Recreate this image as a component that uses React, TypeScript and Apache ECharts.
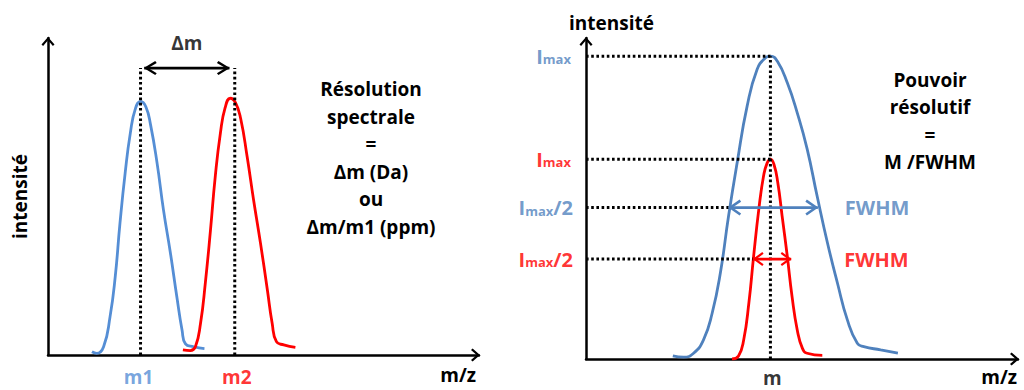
import React, { useEffect, useRef } from 'react';
import * as echarts from 'echarts';

// ---------- style constants ----------
const BLUE_L = '#558ED5';
const BLUE_R = '#4F81BD';
const RED = '#FF0000';
const BLACK = '#000000';
const FONT = '"Open Sans", "DejaVu Sans", sans-serif';
const AXIS_ARROW = 'path://M6.5,0L13,7.4L11.4,9L6.5,3.3L1.6,9L0,7.4Z';
const HEAD = 'path://M7,0L14,10.6L12.2,12L7,4.1L1.8,12L0,10.6Z';

// ---------- left panel data (m/z units 0..100, intensity 0..100) ----------
const m1 = 21.47;
const m2 = 43.33;
const deltaTop = 90.5;
const deltaArrowX = [22.33, 42.09];
const peakM1: [number, number][] = [
  [10.2, 1.0], [11.3, 0.5], [12.9, 2.6], [14.4, 12.1], [15.6, 24.7], [16.7, 41.6],
  [17.9, 57.4], [19.1, 70.0], [20.3, 77.8], [21.5, 80.0], [22.7, 78.3], [23.8, 72.6],
  [25.3, 60.6], [26.8, 45.7], [28.4, 32.2], [29.9, 18.3], [31.1, 7.9], [31.9, 3.5],
  [33.8, 2.6], [36.3, 2.0],
];
const peakM2: [number, number][] = [
  [31.3, 1.6], [33.0, 1.4], [34.2, 2.6], [35.4, 10.1], [36.5, 22.7], [37.7, 39.4],
  [38.8, 56.2], [40.0, 70.0], [41.1, 78.0], [42.3, 81.0], [43.5, 79.6], [44.7, 74.6],
  [46.2, 62.6], [47.7, 48.9], [49.3, 35.3], [50.9, 20.5], [52.0, 10.1], [53.0, 4.2],
  [54.7, 3.2], [57.4, 2.4],
];

// ---------- right panel data ----------
const mCenter = 42.69;
const wideImax = 100;
const narrowImax = 66;
const wideHalf = 50;
const narrowHalf = 33;
const wideFwhm = [33.02, 53.67];
const narrowFwhm = [38.68, 47.49];
const widePeak: [number, number][] = [
  [20.1, 1.0], [22.6, 0.6], [24.9, 1.9], [27.2, 6.3], [29.2, 15.1], [31.1, 28.4],
  [33.0, 47.2], [35.0, 64.9], [37.3, 83.5], [39.6, 95.6], [41.5, 99.4], [42.7, 100],
  [44.3, 98.3], [46.6, 91.2], [48.9, 81.3], [51.2, 69.3], [53.5, 53.8], [55.9, 38.3],
  [58.2, 25.1], [60.5, 12.9], [62.8, 5.2], [64.3, 4.1], [68.2, 3.0], [72.2, 1.9],
];
const narrowPeak: [number, number][] = [
  [33.8, 0], [35.3, 1.0], [36.5, 6.3], [37.7, 18.5], [38.8, 33.9], [40.0, 49.4],
  [41.1, 60.4], [41.9, 64.6], [42.7, 66], [43.5, 64.3], [44.4, 58.2], [45.4, 47.2],
  [46.6, 33.9], [47.7, 20.6], [48.9, 9.6], [50.1, 3.5], [51.2, 1.9], [54.7, 1.2],
];

const leftText = ['Résolution', 'spectrale', '=', 'Δm (Da)', 'ou', 'Δm/m1 (ppm)'];
const rightText = ['Pouvoir', 'résolutif', '=', 'M /FWHM'];

function dotted(idx: number, pts: [number, number][]) {
  return {
    type: 'line', xAxisIndex: idx, yAxisIndex: idx, data: pts, symbol: 'none',
    lineStyle: { color: BLACK, width: 3, type: [2.6, 2.6] }, z: 3, silent: true,
  };
}

function dblArrow(idx: number, xs: number[], y: number, color: string, spread: number, len: number, width: number) {
  return {
    type: 'line', xAxisIndex: idx, yAxisIndex: idx, symbol: HEAD, symbolSize: [spread, len],
    showSymbol: true, showAllSymbol: true,
    itemStyle: { color, borderWidth: 0 },
    lineStyle: { color, width },
    z: 4, silent: true,
    data: [
      { value: [xs[0], y], symbolRotate: 90, symbolOffset: [len / 2 - 0.5, 0] },
      { value: [xs[1], y], symbolRotate: -90, symbolOffset: [-len / 2 + 0.5, 0] },
    ],
  };
}

function curve(idx: number, pts: [number, number][], color: string) {
  return {
    type: 'line', xAxisIndex: idx, yAxisIndex: idx, data: pts, smooth: 0.5, symbol: 'none',
    lineStyle: { color, width: 2.8 }, z: 2, silent: true,
  };
}

const subRich = (color: string) => ({
  I: { fontSize: 20, fontWeight: 'bold', fontFamily: FONT, color },
  s: { fontSize: 13, fontWeight: 'bold', fontFamily: FONT, color, padding: [6, 0, 0, 0] },
  t: { fontSize: 20, fontWeight: 'bold', fontFamily: FONT, color },
});

const nameStyle = { color: BLACK, fontSize: 19, fontWeight: 'bold', fontFamily: FONT };

function axisCommon(name: string) {
  return {
    type: 'value', min: 0, max: 100, name,
    axisLine: {
      show: true, onZero: false, symbol: ['none', AXIS_ARROW], symbolSize: [13, 9],
      symbolOffset: [0, -3.5], lineStyle: { color: BLACK, width: 2.5 },
    },
    axisTick: { show: false }, axisLabel: { show: false }, splitLine: { show: false },
    nameTextStyle: nameStyle,
  };
}

export default function App() {
  const ref = useRef<HTMLDivElement>(null);
  useEffect(() => {
    if (!ref.current) return;
    const chart = echarts.init(ref.current, null, { renderer: 'svg' });
    const option: any = {
      animation: false,
      textStyle: { fontFamily: FONT },
      grid: [
        { left: 48, right: 1024 - 479, top: 38, bottom: 390 - 355 },
        { left: 586, right: 1024 - 1018, top: 38, bottom: 390 - 359 },
      ],
      xAxis: [
        {
          ...axisCommon('m/z'), gridIndex: 0, nameLocation: 'end', nameGap: -3,
          nameTextStyle: { ...nameStyle, align: 'right', verticalAlign: 'top', lineHeight: 20, padding: [10, 0, 0, 0] },
        },
        {
          ...axisCommon('m/z'), gridIndex: 1, nameLocation: 'end', nameGap: -1,
          nameTextStyle: { ...nameStyle, align: 'right', verticalAlign: 'top', lineHeight: 20, padding: [8, 0, 0, 0] },
        },
      ],
      yAxis: [
        {
          ...axisCommon('intensité'), gridIndex: 0, nameLocation: 'middle', nameRotate: 90, nameGap: 18,
          nameTextStyle: { ...nameStyle, lineHeight: 20 },
        },
        {
          ...axisCommon('intensité'), gridIndex: 1, max: 106, nameLocation: 'end', nameGap: 5,
          nameTextStyle: { ...nameStyle, align: 'center', lineHeight: 20, padding: [0, 0, 0, 51] },
        },
      ],
      series: [
        // left panel
        dotted(0, [[m1, 0], [m1, deltaTop]]),
        dotted(0, [[m2, 0], [m2, deltaTop]]),
        curve(0, peakM1, BLUE_L),
        curve(0, peakM2, RED),
        dblArrow(0, deltaArrowX, deltaTop, BLACK, 14, 13, 2.6),
        {
          type: 'scatter', xAxisIndex: 0, yAxisIndex: 0, symbolSize: 0, silent: true, z: 6,
          label: { show: true, position: 'inside', fontSize: 19, fontWeight: 'bold', fontFamily: FONT, lineHeight: 20 },
          data: [
            { value: [(deltaArrowX[0] + deltaArrowX[1]) / 2, deltaTop], label: { formatter: 'Δm', color: BLACK, offset: [0, -25] } },
            { value: [m1, 0], label: { formatter: 'm1', color: BLUE_L, offset: [-2, 22] } },
            { value: [m2, 0], label: { formatter: 'm2', color: RED, offset: [2, 22] } },
          ],
        },
        // right panel
        dotted(1, [[0, wideImax], [mCenter, wideImax]]),
        dotted(1, [[0, narrowImax], [mCenter, narrowImax]]),
        dotted(1, [[0, wideHalf], [wideFwhm[0], wideHalf]]),
        dotted(1, [[0, narrowHalf], [narrowFwhm[0], narrowHalf]]),
        dotted(1, [[mCenter, 0], [mCenter, wideImax]]),
        curve(1, widePeak, BLUE_R),
        curve(1, narrowPeak, RED),
        dblArrow(1, wideFwhm, wideHalf, BLUE_R, 16, 13, 2.8),
        dblArrow(1, narrowFwhm, narrowHalf, RED, 14, 11, 2.8),
        {
          type: 'scatter', xAxisIndex: 1, yAxisIndex: 1, symbolSize: 0, silent: true, z: 6,
          label: { show: true, fontSize: 20, fontWeight: 'bold', fontFamily: FONT },
          data: [
            { value: [0, wideImax], label: { position: 'left', distance: 15, formatter: '{I|I}{s|max}', rich: subRich(BLUE_R) } },
            { value: [0, narrowImax], label: { position: 'left', distance: 15, formatter: '{I|I}{s|max}', rich: subRich(RED) } },
            { value: [0, wideHalf], label: { position: 'left', distance: 13, formatter: '{I|I}{s|max}{t|/2}', rich: subRich(BLUE_R) } },
            { value: [0, narrowHalf], label: { position: 'left', distance: 13, formatter: '{I|I}{s|max}{t|/2}', rich: subRich(RED) } },
            { value: [mCenter, 0], label: { position: 'inside', formatter: 'm', color: BLACK, fontSize: 19, lineHeight: 18, offset: [2, 19] } },
            { value: [wideFwhm[1], wideHalf], label: { position: 'right', distance: 27, formatter: 'FWHM', color: BLUE_R } },
            { value: [narrowFwhm[1], narrowHalf], label: { position: 'right', distance: 53, formatter: 'FWHM', color: RED } },
          ],
        },
      ],
      graphic: [
        {
          type: 'text', x: 371, y: 158, silent: true,
          style: {
            text: leftText.join('\n'), fill: BLACK, fontSize: 19, fontWeight: 'bold', fontFamily: FONT,
            align: 'center', verticalAlign: 'middle', lineHeight: 27.5,
          },
        },
        {
          type: 'text', x: 930, y: 121, silent: true,
          style: {
            text: rightText.join('\n'), fill: BLACK, fontSize: 19, fontWeight: 'bold', fontFamily: FONT,
            align: 'center', verticalAlign: 'middle', lineHeight: 27.5,
          },
        },
      ],
    };
    chart.setOption(option);
    return () => chart.dispose();
  }, []);
  return (
    <div
      ref={ref}
      style={{ position: 'fixed', left: 0, top: 0, width: 1024, height: 390, background: '#fff' }}
    />
  );
}
